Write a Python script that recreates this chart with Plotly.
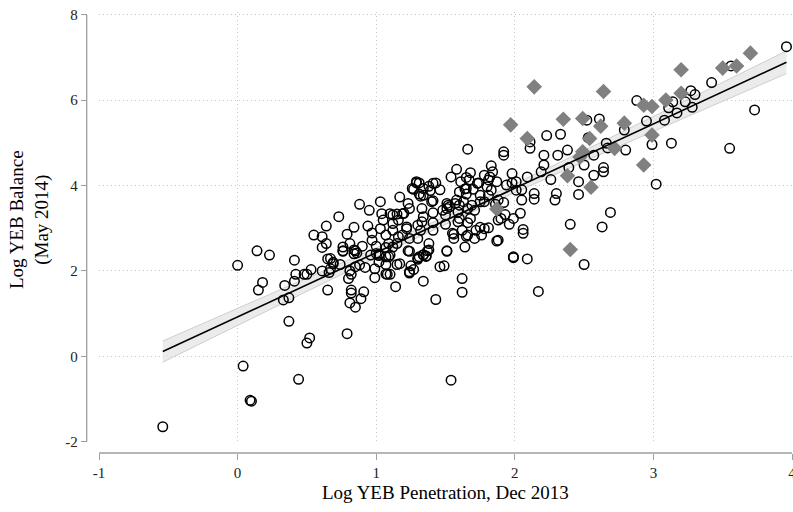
import numpy as np
import plotly.graph_objects as go

# ---------------- data ----------------
circle_x = [
    -0.54, 0.04, 0.09, 0.10, 0.44, 0.50, 0.52, 0.37, 0.00, 0.15, 0.18, 0.14, 0.23, 0.41, 0.34, 0.33, 0.37, 0.41,
    0.42, 0.48, 0.50, 0.53, 0.61, 0.65, 0.66, 0.67, 0.65, 0.69, 0.74, 0.76, 0.79, 0.80, 0.81, 0.85, 0.82, 0.82,
    0.89, 0.91, 0.81, 0.82, 0.85, 0.88, 0.92, 0.84, 0.85, 0.96, 0.99, 0.99, 1.02, 1.02, 1.07, 1.07, 1.08, 1.07,
    1.14, 1.15,
    1.99, 2.09, 2.17, 2.50, 1.54, 1.62, 1.62, 1.43, 1.34, 1.24, 1.27, 1.25, 1.24, 1.30, 1.34, 1.36, 1.37, 1.46,
    1.49, 1.51, 1.10, 1.10,
    0.88, 1.03, 0.95, 0.73, 0.64, 0.55, 0.61, 0.64, 0.61, 0.79, 0.84, 0.76, 0.76, 0.81, 0.84, 0.86, 0.90, 0.94,
    0.97, 0.97, 1.00, 1.03, 1.07, 1.04, 1.05, 1.10, 1.12, 1.09, 1.07, 1.15, 1.17, 1.19, 1.02, 0.67, 0.69, 1.09,
    1.00,
    3.96, 3.56, 3.42, 3.73, 3.55, 3.27, 3.30, 3.23, 3.28, 3.14, 3.11, 3.17, 3.08, 3.13, 2.95, 2.99, 3.02, 2.88,
    2.79, 2.80, 2.67, 2.66, 2.57, 2.53, 2.52, 2.61, 2.64, 2.64, 2.57, 2.50, 2.46, 2.46, 2.69, 2.63, 2.40, 2.38,
    2.39, 2.33, 2.23, 2.31, 2.21, 2.21, 2.19, 2.11, 2.11, 2.09, 2.26, 2.30, 2.29, 2.14, 2.14, 2.01, 2.05, 2.06,
    2.06, 2.04, 1.98, 1.98, 1.94, 1.92, 1.92, 1.66, 1.83, 1.84, 1.87, 1.82, 1.78, 1.80, 1.83, 1.81, 1.88, 1.86,
    1.92, 1.90, 1.93, 1.99, 1.96, 1.88, 1.99, 1.68, 1.67, 1.58, 1.54, 1.61, 1.64, 1.65, 1.70, 1.73, 1.75, 1.75,
    1.69, 1.63, 1.58, 1.60, 1.66, 1.68, 1.59, 1.60, 1.59, 1.53, 1.51, 1.48, 1.50, 1.57, 1.50, 1.55, 1.56, 1.62,
    1.66, 1.72, 1.75, 1.78, 1.81, 1.71, 1.66, 1.64, 1.51, 1.41, 1.43, 1.39, 1.34, 1.31, 1.29, 1.26, 1.31, 1.34,
    1.40, 1.41, 1.23, 1.24, 1.33, 1.34, 1.41, 1.33, 1.32, 1.41, 1.20, 1.16, 1.12, 1.12, 1.22, 1.24, 1.16, 1.15,
    1.30, 1.38, 1.38, 1.23, 1.34, 1.31, 1.12,
    1.65, 1.74, 1.81, 1.29, 1.27, 1.38, 1.46, 1.32, 1.41, 1.60, 1.65, 1.52, 1.78, 1.71, 1.51, 1.88, 1.22, 1.30,
    1.56, 1.65, 1.76, 1.87, 1.19, 1.36, 1.30, 1.17, 1.24, 2.05, 2.01,
]
circle_y = [
    -1.65, -0.23, -1.03, -1.05, -0.54, 0.31, 0.43, 0.82, 2.13, 1.55, 1.73, 2.47, 2.37, 2.25, 1.66, 1.32, 1.37, 1.76,
    1.92, 1.92, 1.92, 2.03, 2.00, 1.55, 1.96, 2.05, 2.28, 2.20, 2.15, 2.46, 0.53, 1.82, 1.25, 1.15, 1.48, 1.55,
    1.35, 1.51, 2.00, 1.92, 2.10, 2.14, 2.08, 2.40, 2.47, 2.37, 1.84, 2.05, 2.36, 2.21, 2.15, 1.93, 1.92, 2.33,
    1.63, 2.15,
    2.31, 2.28, 1.52, 2.15, -0.56, 1.82, 1.50, 1.33, 1.76, 1.98, 2.03, 2.12, 2.46, 2.30, 2.38, 2.35, 2.47, 2.10,
    2.12, 2.46, 2.37, 1.92,
    3.56, 3.62, 3.42, 3.27, 3.05, 2.84, 2.80, 2.64, 2.55, 2.86, 3.02, 2.56, 2.47, 2.64, 2.49, 2.42, 2.58, 3.05,
    2.89, 2.72, 2.58, 2.99, 2.84, 3.34, 3.19, 3.34, 3.11, 2.64, 2.55, 3.33, 3.73, 3.34, 2.39, 2.29, 2.17, 2.33,
    2.41,
    7.25, 6.80, 6.41, 5.77, 4.87, 6.22, 6.13, 5.96, 5.83, 5.96, 5.82, 5.70, 5.53, 4.99, 5.51, 4.96, 4.03, 5.99,
    5.30, 4.83, 4.88, 4.99, 4.71, 5.12, 5.53, 5.56, 4.42, 4.32, 4.24, 4.48, 4.09, 3.79, 3.37, 3.03, 3.09, 4.83,
    4.42, 5.20, 5.17, 4.71, 4.71, 4.48, 4.32, 5.02, 4.87, 4.20, 4.14, 3.81, 3.66, 3.81, 3.68, 4.09, 3.66, 2.97,
    2.88, 3.35, 4.28, 4.06, 4.01, 4.79, 4.71, 4.85, 4.46, 4.32, 4.09, 4.20, 4.24, 3.97, 3.89, 3.77, 3.66, 3.56,
    3.60, 3.23, 3.32, 3.23, 3.09, 2.72, 2.33, 4.30, 4.13, 4.38, 4.20, 4.09, 3.92, 3.80, 3.91, 4.05, 3.77, 3.62,
    3.54, 3.62, 3.66, 3.54, 3.46, 3.23, 3.38, 3.23, 3.15, 3.50, 3.58, 3.42, 3.31, 3.58, 3.09, 2.88, 2.76, 2.95,
    3.13, 2.95, 3.02, 2.99, 3.01, 2.76, 2.84, 2.56, 2.47, 4.05, 4.06, 3.88, 3.93, 4.06, 4.06, 3.93, 3.80, 3.77,
    3.62, 3.36, 3.58, 3.46, 3.46, 3.27, 3.13, 3.15, 2.95, 2.95, 3.35, 3.19, 3.31, 2.95, 2.99, 2.76, 2.80, 2.64,
    2.76, 2.64, 2.49, 2.47, 2.37, 2.33, 2.56,
    4.19, 4.06, 4.13, 4.09, 3.91, 3.98, 3.90, 3.75, 3.64, 3.85, 3.93, 3.54, 3.62, 3.42, 3.46, 3.19, 3.03, 3.07,
    2.86, 2.81, 2.84, 2.70, 2.84, 2.34, 2.27, 2.17, 1.95, 3.90, 3.89,
]
diamond_x = [3.83, 3.86, 2.14, 2.64, 3.20, 3.50, 3.60, 3.70, 1.97, 2.35, 2.49, 2.62, 2.09, 2.79, 2.93, 2.99,
             3.09, 3.20, 2.99, 2.49, 2.54, 2.47, 2.72, 2.93, 2.38, 2.55, 2.40, 1.87]
diamond_y = [8.08, 8.15, 6.31, 6.20, 6.71, 6.75, 6.80, 7.10, 5.42, 5.55, 5.57, 5.39, 5.10, 5.46, 5.88, 5.85,
             6.00, 6.16, 5.18, 4.79, 5.10, 4.67, 4.87, 4.48, 4.23, 3.96, 2.50, 3.45]

x_ticks = [-1, 0, 1, 2, 3, 4]
y_ticks = [-2, 0, 2, 4, 6, 8]
x_title = "Log YEB Penetration, Dec 2013"
y_title = "Log YEB Balance<br>(May 2014)"

# ---------------- linear fit with 95% CI ----------------
ax = np.array(circle_x + diamond_x, dtype=float)
ay = np.array(circle_y + diamond_y, dtype=float)
n = len(ax)
X = np.column_stack([np.ones(n), ax])
beta = np.linalg.lstsq(X, ay, rcond=None)[0]
res = ay - X @ beta
s2 = res @ res / (n - 2)
XtXi = np.linalg.inv(X.T @ X)
xg = np.linspace(ax.min(), ax.max(), 120)
G = np.column_stack([np.ones_like(xg), xg])
yhat = G @ beta
se = np.sqrt(s2 * np.einsum("ij,jk,ik->i", G, XtXi, G))
lo, hi = yhat - 1.968 * se, yhat + 1.968 * se

W, H = 793, 512
FONT = "Liberation Serif"

# pixel geometry of the plot region
PX_XM1, PX_X4 = 99.0, 792.0          # x = -1 and x = 4
PY_Y8, PY_YM2 = 14.7, 441.7          # y = 8 and y = -2
ppx = (PX_X4 - PX_XM1) / 5.0
ppy = (PY_YM2 - PY_Y8) / 10.0
x_hi = 4 + (W - PX_X4) / ppx          # let the range reach the paper edge so x=4 grid shows
y_hi = 8 + (PY_Y8 - 12.0) / ppy

fig = go.Figure()
fig.add_trace(go.Scatter(x=xg, y=lo, mode="lines", line=dict(color="#c4c4c4", width=0.8),
                         hoverinfo="skip", showlegend=False))
fig.add_trace(go.Scatter(x=xg, y=hi, mode="lines", line=dict(color="#c4c4c4", width=0.8),
                         fill="tonexty", fillcolor="rgba(228,228,228,0.75)", hoverinfo="skip", showlegend=False))
fig.add_trace(go.Scatter(x=circle_x, y=circle_y, mode="markers", cliponaxis=False,
                         marker=dict(symbol="circle-open", size=9.5, color="black", line=dict(width=1.5, color="black")),
                         showlegend=False))
fig.add_trace(go.Scatter(x=diamond_x, y=diamond_y, mode="markers", cliponaxis=False,
                         marker=dict(symbol="diamond", size=12, color="#808080", line=dict(width=0)),
                         showlegend=False))
fig.add_trace(go.Scatter(x=xg, y=yhat, mode="lines", line=dict(color="black", width=1.6), showlegend=False))

axis_common = dict(
    showline=False,
    ticks="outside", ticklen=6, tickcolor="#9e9e9e", tickwidth=1.3,
    showgrid=True, gridcolor="#c8c8c8", griddash="1px,3px", gridwidth=1,
    zeroline=False, automargin=False, ticklabeloverflow="allow",
    tickfont=dict(family=FONT, size=15, color="#222222"),
)

fig.update_layout(
    width=W, height=H,
    margin=dict(l=0, r=0, t=0, b=0),
    paper_bgcolor="white", plot_bgcolor="white",
    xaxis=dict(domain=[PX_XM1 / W, 1.0], range=[-1, x_hi], anchor="free", position=1 - 453 / H,
               tickvals=x_ticks, ticktext=[str(v) for v in x_ticks], **axis_common),
    yaxis=dict(domain=[1 - PY_YM2 / H, 1 - 12.0 / H], range=[-2, y_hi], anchor="free", position=86.7 / W,
               tickvals=y_ticks, ticktext=[str(v) for v in y_ticks], **axis_common),
    shapes=[
        # offset axis lines spanning the tick range
        dict(type="line", xref="x", yref="paper", x0=-1, x1=4, y0=1 - 453 / H, y1=1 - 453 / H,
             line=dict(color="#9e9e9e", width=1.3)),
        dict(type="line", xref="paper", yref="y", x0=86.7 / W, x1=86.7 / W, y0=-2, y1=8,
             line=dict(color="#9e9e9e", width=1.3)),
    ],
    annotations=[
        dict(text=x_title, xref="paper", yref="paper", x=445.5 / W, y=1 - 492 / H, xanchor="center",
             yanchor="middle", showarrow=False, font=dict(family=FONT, size=19, color="black")),
        dict(text=y_title, xref="paper", yref="paper", x=29 / W, y=1 - 220 / H, xanchor="center",
             yanchor="middle", textangle=-90, showarrow=False, font=dict(family=FONT, size=19, color="black")),
    ],
)

fig.write_html("out.html")
